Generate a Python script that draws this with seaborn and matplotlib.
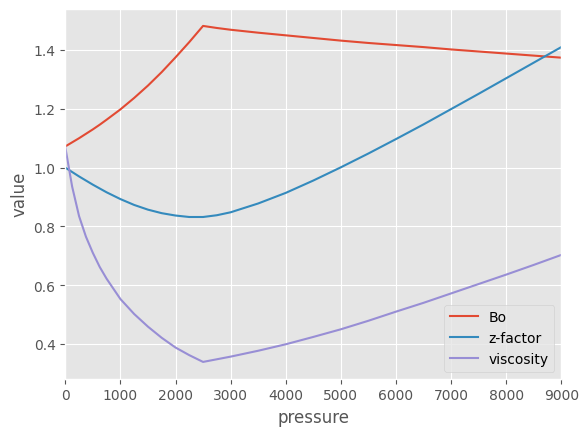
import pandas as pd
import numpy as np
import matplotlib.pyplot as plt
import seaborn as sns

#Values (finer pressure steps where the curves bend most)
pressure = [0, 125, 250, 375, 500, 625, 750, 1000, 1250, 1500, 1750, 2000, 2250, 2500,
            2750, 3000, 3500, 4000, 4500, 5000, 5500, 6000, 6500, 7000, 7500, 8000, 8500, 9000]

bo = [1.072, 1.086, 1.100, 1.115, 1.130, 1.146, 1.163, 1.198, 1.237, 1.279, 1.325, 1.375, 1.427, 1.482,
      1.475, 1.469, 1.459, 1.450, 1.441, 1.432, 1.424, 1.417, 1.410, 1.402, 1.395, 1.388, 1.381, 1.374]

z_factor = [1.000, 0.985, 0.970, 0.956, 0.942, 0.929, 0.916, 0.893, 0.873, 0.857, 0.845, 0.837, 0.832, 0.832,
            0.838, 0.848, 0.878, 0.914, 0.956, 1.001, 1.048, 1.097, 1.147, 1.199, 1.251, 1.304, 1.357, 1.410]

viscosity = [1.070, 0.935, 0.835, 0.765, 0.710, 0.662, 0.622, 0.553, 0.502, 0.459, 0.421, 0.388, 0.362, 0.339,
             0.348, 0.357, 0.377, 0.399, 0.424, 0.450, 0.479, 0.510, 0.540, 0.572, 0.604, 0.636, 0.669, 0.703]

series_names = ["Bo", "z-factor", "viscosity"]
series_colors = ["#E24A33", "#348ABD", "#988ED5"]

#Long format table for seaborn
df = pd.DataFrame({"pressure": pressure, "Bo": bo, "z-factor": z_factor, "viscosity": viscosity})
long_df = df.melt(id_vars="pressure", value_vars=series_names, var_name="variable", value_name="value")

plt.style.use("ggplot")
fig, ax = plt.subplots(figsize=(6.4, 4.8))
sns.lineplot(data=long_df, x="pressure", y="value", hue="variable",
             palette=dict(zip(series_names, series_colors)), ax=ax)
ax.set_xlim(0, 9000)
ax.legend(loc="lower right", title=None)

fig.savefig("out.png", dpi=100, bbox_inches="tight")
